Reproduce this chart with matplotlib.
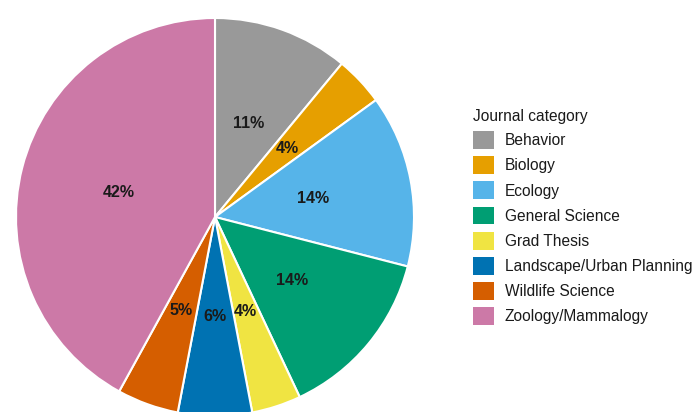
import matplotlib
matplotlib.use("Agg")
import matplotlib.pyplot as plt

# journal category shares (percent)
categories = ["Behavior", "Biology", "Ecology", "General Science", "Grad Thesis",
              "Landscape/Urban Planning", "Wildlife Science", "Zoology/Mammalogy"]
shares = [11, 4, 14, 14, 4, 6, 5, 42]
colors = ["#999999", "#E69F00", "#56B4E9", "#009E73", "#F0E442",
          "#0072B2", "#D55E00", "#CC79A7"]

plt.rcParams['font.family'] = ['Liberation Sans', 'DejaVu Sans']

W, H = 696, 412
fig = plt.figure(figsize=(W / 100, H / 100), dpi=100)

# pie centre ~ (215, 217) px, radius ~199 px
cx, cy, r = 215, 217, 199
ax = fig.add_axes([(cx - r) / W, (H - cy - r) / H, 2 * r / W, 2 * r / H])
wedges, texts, autotexts = ax.pie(
    shares, colors=colors, startangle=90, counterclock=False,
    autopct=lambda p: f"{p:.0f}%", pctdistance=0.5,
    wedgeprops=dict(edgecolor="white", linewidth=1.5),
    textprops=dict(fontsize=11.5, fontweight="bold", color="#1a1a1a"))
ax.set_xlim(-1, 1)
ax.set_ylim(-1, 1)
ax.set_aspect("equal")

leg = fig.legend(wedges, categories, title="Journal category",
                 loc="upper left", bbox_to_anchor=(473 / W, 1 - 109 / H),
                 frameon=False, fontsize=11.2, title_fontsize=11.2,
                 handlelength=1.35, handleheight=1.4, handletextpad=0.68,
                 labelspacing=0.46, borderpad=0, borderaxespad=0,
                 alignment="left")
for t in leg.get_texts():
    t.set_color("#1a1a1a")
leg.get_title().set_color("#1a1a1a")
for h in leg.legend_handles:
    h.set_edgecolor("none")

fig.savefig("out.png", dpi=100)
